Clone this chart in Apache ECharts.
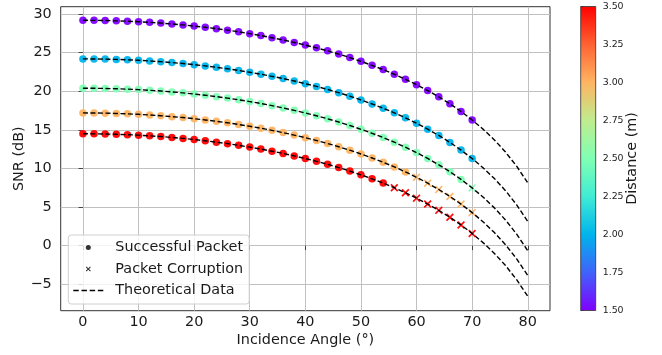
<!DOCTYPE html>
<html>
<head>
<meta charset="utf-8">
<script src="https://cdn.jsdelivr.net/npm/echarts@6/dist/echarts.min.js"></script>
<style>html,body{margin:0;padding:0;background:#fff;}#c{width:662px;height:355px;}</style>
</head>
<body>
<div id="c"></div>
<script>
// Measured incidence angles (deg)
const angles = [0,2,4,6,8,10,12,14,16,18,20,22,24,26,28,30,32,34,36,38,40,42,44,46,48,50,52,54,56,58,60,62,64,66,68,70];
// Extra angles where only the theoretical curve is drawn
const extAngles = [72,74,76,78,80];

// Distances (m)
const distances = [1.5, 2.0, 2.5, 3.0, 3.5];

// Measured SNR (dB) per distance
const snr_1_5 = [29.20,29.19,29.17,29.13,29.08,29.02,28.93,28.84,28.72,28.60,28.45,28.29,28.11,27.92,27.70,27.47,27.22,26.94,26.65,26.33,25.99,25.63,25.24,24.82,24.37,23.88,23.36,22.81,22.21,21.56,20.86,20.10,19.28,18.38,17.39,16.29];
const snr_2_0 = [24.20,24.19,24.17,24.13,24.08,24.02,23.93,23.84,23.72,23.60,23.45,23.29,23.11,22.92,22.70,22.47,22.22,21.94,21.65,21.33,20.99,20.63,20.24,19.82,19.37,18.88,18.36,17.81,17.21,16.56,15.86,15.10,14.28,13.38,12.39,11.29];
const snr_2_5 = [20.40,20.39,20.37,20.33,20.28,20.22,20.13,20.04,19.92,19.80,19.65,19.49,19.31,19.12,18.90,18.67,18.42,18.14,17.85,17.53,17.19,16.83,16.44,16.02,15.57,15.08,14.56,14.01,13.41,12.76,12.06,11.30,10.48,9.58,8.59,7.49];
const snr_3_0 = [17.20,17.19,17.17,17.13,17.08,17.02,16.93,16.84,16.72,16.60,16.45,16.29,16.11,15.92,15.70,15.47,15.22,14.94,14.65,14.33,13.99,13.63,13.24,12.82,12.37,11.88,11.36,10.81,10.21,9.56,8.86,8.10,7.28,6.38,5.39,4.29];
const snr_3_5 = [14.50,14.49,14.47,14.43,14.38,14.32,14.23,14.14,14.02,13.90,13.75,13.59,13.41,13.22,13.00,12.77,12.52,12.24,11.95,11.63,11.29,10.93,10.54,10.12,9.67,9.18,8.66,8.11,7.51,6.86,6.16,5.40,4.58,3.68,2.69,1.59];

// Theoretical SNR (dB) beyond the measured range (72..80 deg)
const theoExt_1_5 = [15.07,13.70,12.13,10.30,8.14];
const theoExt_2_0 = [10.07,8.70,7.13,5.30,3.14];
const theoExt_2_5 = [6.27,4.90,3.33,1.50,-0.66];
const theoExt_3_0 = [3.07,1.70,0.13,-1.70,-3.86];
const theoExt_3_5 = [0.37,-1.00,-2.57,-4.40,-6.56];

// Angles at which the packet was corrupted
const corrupt_1_5 = [];
const corrupt_2_0 = [];
const corrupt_2_5 = [70];
const corrupt_3_0 = [60,62,64,66,68,70];
const corrupt_3_5 = [56,58,60,62,64,66,68,70];

// Tick labels
const xTicks = [0,10,20,30,40,50,60,70,80];
const yTicks = [-5,0,5,10,15,20,25,30];
const cbarMin = 1.5, cbarMax = 3.5, cbarStep = 0.25;

// Rainbow colormap colours for each distance and for the colour bar
const distColors = ['#8000ff','#00b4ec','#80ffb4','#ffb462','#ff0000'];
const cbarStops = ['#8000ff','#4062fa','#00b4ec','#40ecd4','#80ffb4','#bfec8e','#ffb462','#ff6232','#ff0000'];

const seriesSNR = [snr_1_5, snr_2_0, snr_2_5, snr_3_0, snr_3_5];
const seriesExt = [theoExt_1_5, theoExt_2_0, theoExt_2_5, theoExt_3_0, theoExt_3_5];
const seriesCorrupt = [corrupt_1_5, corrupt_2_0, corrupt_2_5, corrupt_3_0, corrupt_3_5];

const FONT = 'DejaVu Sans';
const FS = 14.4;
const crossPath = 'path://M1.5,0 L5,3.5 L8.5,0 L10,1.5 L6.5,5 L10,8.5 L8.5,10 L5,6.5 L1.5,10 L0,8.5 L3.5,5 L0,1.5 Z';
const dashIcon = 'path://M0,0h5v1.4h-5z M7.5,0h5v1.4h-5z M15,0h5v1.4h-5z M22.5,0h5v1.4h-5z';

const series = [];
distances.forEach((d, k) => {
  const ok = [], bad = [];
  angles.forEach((a, i) => {
    (seriesCorrupt[k].includes(a) ? bad : ok).push([a, seriesSNR[k][i]]);
  });
  series.push({
    name: 'ok' + d, type: 'scatter', data: ok, symbol: 'circle', symbolSize: 7.5,
    itemStyle: { color: distColors[k], opacity: 0.95 }, z: 3, silent: true
  });
  series.push({
    name: 'bad' + d, type: 'scatter', data: bad, symbol: crossPath, symbolSize: 8,
    itemStyle: { color: distColors[k], opacity: 0.95 }, z: 3, silent: true
  });
  const theo = angles.map((a, i) => [a, seriesSNR[k][i]])
    .concat(extAngles.map((a, i) => [a, seriesExt[k][i]]));
  series.push({
    name: 'theo' + d, type: 'line', data: theo, symbol: 'none', smooth: false,
    lineStyle: { color: '#000', width: 1.4, type: [5, 2.5] }, z: 4, silent: true
  });
});
// legend-only series
series.push({ name: 'Successful Packet', type: 'scatter', data: [], symbol: 'circle', itemStyle: { color: '#000' } });
series.push({ name: 'Packet Corruption', type: 'scatter', data: [], symbol: crossPath, itemStyle: { color: '#000' } });
series.push({ name: 'Theoretical Data', type: 'line', data: [], symbol: 'none', itemStyle: { color: '#000' },
  lineStyle: { color: '#000', width: 1.4, type: [5, 2.5] } });

// colour bar
const cbarGradient = {
  type: 'linear', x: 0, y: 0, x2: 0, y2: 1,
  colorStops: cbarStops.slice().reverse().map((c, i, arr) => ({ offset: i / (arr.length - 1), color: c }))
};
series.push({
  type: 'custom', xAxisIndex: 1, yAxisIndex: 1, silent: true,
  data: [[0.5, cbarMin, cbarMax]],
  renderItem: function (params, api) {
    const cs = params.coordSys;
    const top = api.coord([0.5, api.value(2)])[1];
    const bot = api.coord([0.5, api.value(1)])[1];
    return { type: 'rect', shape: { x: cs.x, y: top, width: cs.width, height: bot - top },
      style: { fill: cbarGradient, stroke: '#333', lineWidth: 0.8 } };
  }
});

const txt = '#1a1a1a';
const option = {
  animation: false,
  backgroundColor: '#fff',
  textStyle: { fontFamily: FONT },
  grid: [
    { left: 60.7, right: 112, top: 6.7, bottom: 44.3, show: true, borderColor: '#333', borderWidth: 1, backgroundColor: 'transparent' },
    { left: 580.7, width: 15, top: 6.5, bottom: 44.5 }
  ],
  xAxis: [
    { type: 'value', gridIndex: 0, min: -4, max: 84,
      name: 'Incidence Angle (°)', nameLocation: 'middle', nameGap: 23, nameMoveOverlap: false,
      nameTextStyle: { fontFamily: FONT, fontSize: FS, color: txt },
      axisLine: { show: false },
      axisTick: { show: true, inside: false, length: 4.4, customValues: xTicks, lineStyle: { color: '#333', width: 0.9 } },
      axisLabel: { customValues: xTicks, fontFamily: FONT, fontSize: FS, color: txt, margin: 5 },
      splitLine: { show: true, lineStyle: { color: '#c0c0c0', width: 1 } } },
    { type: 'value', gridIndex: 1, min: 0, max: 1, show: false }
  ],
  yAxis: [
    { type: 'value', gridIndex: 0, min: -8.42, max: 30.96,
      name: 'SNR (dB)', nameLocation: 'middle', nameGap: 34, nameRotate: 90, nameMoveOverlap: false,
      nameTextStyle: { fontFamily: FONT, fontSize: FS, color: txt },
      axisLine: { show: false },
      axisTick: { show: true, inside: false, length: 4.4, customValues: yTicks, lineStyle: { color: '#333', width: 0.9 } },
      axisLabel: { customValues: yTicks, fontFamily: FONT, fontSize: FS, color: txt, margin: 9,
        formatter: v => (v < 0 ? '\u2212' + Math.abs(v) : String(v)) },
      splitLine: { show: true, lineStyle: { color: '#c0c0c0', width: 1 } } },
    { type: 'value', gridIndex: 1, min: cbarMin, max: cbarMax, interval: cbarStep, position: 'right',
      name: 'Distance (m)', nameLocation: 'middle', nameGap: 30, nameRotate: 90, nameMoveOverlap: false,
      nameTextStyle: { fontFamily: FONT, fontSize: FS, color: txt },
      axisLine: { show: false },
      axisTick: { show: true, inside: false, length: 3, lineStyle: { color: '#333', width: 0.8 } },
      axisLabel: { fontFamily: FONT, fontSize: 9.4, color: txt, margin: 7, formatter: v => v.toFixed(2) },
      splitLine: { show: false } }
  ],
  legend: {
    orient: 'vertical', left: 68.3, top: 235,
    data: ['Successful Packet', 'Packet Corruption', { name: 'Theoretical Data', icon: dashIcon }],
    itemWidth: 30, itemHeight: 5, itemGap: 6.5,
    padding: [5, 6, 6, 5],
    backgroundColor: 'rgba(255,255,255,0.8)', borderColor: '#d0d0d0', borderWidth: 1, borderRadius: 3,
    textStyle: { fontFamily: FONT, fontSize: FS, color: txt, lineHeight: 15, padding: [0, 0, 0, 7] },
    selectedMode: false
  },
  series: series
};
const chart = echarts.init(document.getElementById('c'), null, { renderer: 'canvas' });
chart.setOption(option);
</script>
</body>
</html>
